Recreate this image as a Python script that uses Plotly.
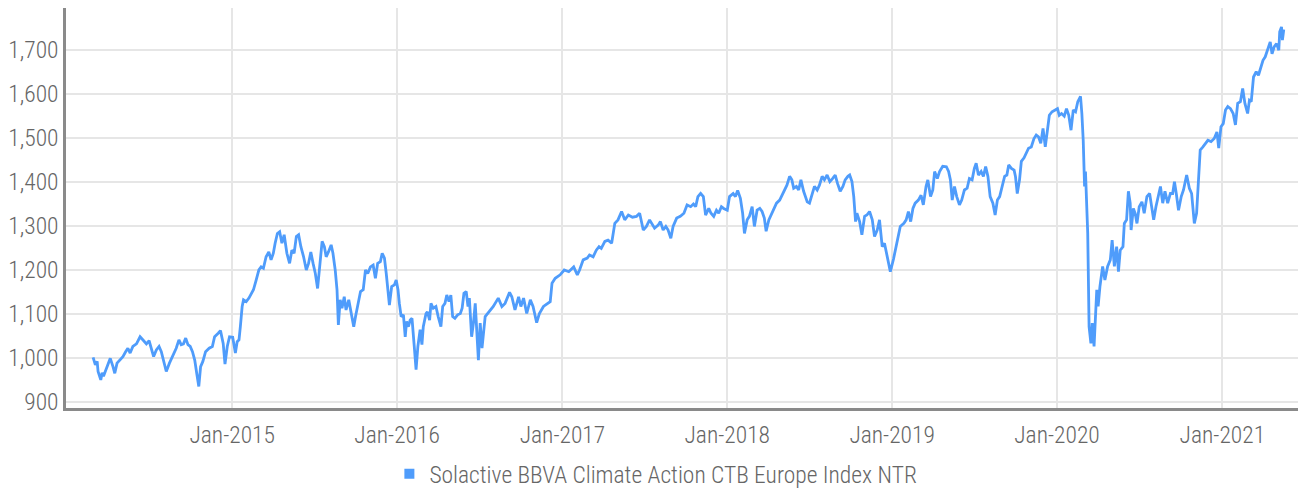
import plotly.graph_objects as go

series_name = "Solactive BBVA Climate Action CTB Europe Index NTR"

dates = [
    # 2014
    "2014-02-27", "2014-03-04", "2014-03-08", "2014-03-10", "2014-03-16", "2014-03-19", "2014-03-22", "2014-03-27",
    "2014-04-01", "2014-04-06", "2014-04-12", "2014-04-16", "2014-04-21", "2014-04-27", "2014-05-04", "2014-05-10",
    "2014-05-15", "2014-05-20", "2014-05-26", "2014-06-03", "2014-06-11", "2014-06-19", "2014-06-25", "2014-07-01",
    "2014-07-06", "2014-07-11", "2014-07-17", "2014-07-23", "2014-07-28", "2014-08-02", "2014-08-08", "2014-08-15",
    "2014-08-23", "2014-08-30", "2014-09-05", "2014-09-10", "2014-09-15", "2014-09-20", "2014-09-25", "2014-09-30",
    "2014-10-05", "2014-10-10", "2014-10-15", "2014-10-19", "2014-10-23", "2014-10-28", "2014-11-03", "2014-11-11",
    "2014-11-18", "2014-11-23", "2014-12-01", "2014-12-06", "2014-12-12", "2014-12-16", "2014-12-21", "2014-12-26",
    # 2015
    "2015-01-02", "2015-01-05", "2015-01-08", "2015-01-12", "2015-01-16", "2015-01-19", "2015-01-23", "2015-01-26",
    "2015-02-01", "2015-02-07", "2015-02-12", "2015-02-17", "2015-02-23", "2015-03-01", "2015-03-06", "2015-03-11",
    "2015-03-17", "2015-03-23", "2015-03-28", "2015-04-02", "2015-04-06", "2015-04-11", "2015-04-16", "2015-04-21",
    "2015-04-26", "2015-05-02", "2015-05-08", "2015-05-13", "2015-05-18", "2015-05-23", "2015-05-28", "2015-06-02",
    "2015-06-08", "2015-06-14", "2015-06-19", "2015-06-24", "2015-06-29", "2015-07-04", "2015-07-09", "2015-07-13",
    "2015-07-19", "2015-07-24", "2015-07-28", "2015-08-02", "2015-08-08", "2015-08-12", "2015-08-17", "2015-08-21",
    "2015-08-24", "2015-08-28", "2015-09-01", "2015-09-06", "2015-09-10", "2015-09-16", "2015-09-19", "2015-09-23",
    "2015-09-27", "2015-10-01", "2015-10-06", "2015-10-12", "2015-10-18", "2015-10-23", "2015-10-28", "2015-11-03",
    "2015-11-09", "2015-11-14", "2015-11-19", "2015-11-25", "2015-11-29", "2015-12-04", "2015-12-08", "2015-12-11",
    "2015-12-15", "2015-12-20", "2015-12-26", "2015-12-30",
    # 2016
    "2016-01-03", "2016-01-06", "2016-01-10", "2016-01-15", "2016-01-19", "2016-01-22", "2016-01-26", "2016-01-30",
    "2016-02-03", "2016-02-08", "2016-02-12", "2016-02-16", "2016-02-21", "2016-02-25", "2016-02-28", "2016-03-05",
    "2016-03-08", "2016-03-13", "2016-03-16", "2016-03-21", "2016-03-27", "2016-04-01", "2016-04-07", "2016-04-11",
    "2016-04-16", "2016-04-20", "2016-04-25", "2016-04-29", "2016-05-03", "2016-05-08", "2016-05-14", "2016-05-20",
    "2016-05-24", "2016-05-28", "2016-06-02", "2016-06-06", "2016-06-09", "2016-06-14", "2016-06-18", "2016-06-22",
    "2016-06-25", "2016-06-29", "2016-07-03", "2016-07-07", "2016-07-14", "2016-07-25", "2016-08-01", "2016-08-12",
    "2016-08-20", "2016-08-27", "2016-09-06", "2016-09-11", "2016-09-18", "2016-09-26", "2016-10-01", "2016-10-07",
    "2016-10-14", "2016-10-22", "2016-10-28", "2016-11-05", "2016-11-11", "2016-11-20", "2016-11-28", "2016-12-05",
    "2016-12-09", "2016-12-16", "2016-12-27",
    # 2017
    "2017-01-05", "2017-01-15", "2017-01-26", "2017-02-03", "2017-02-08", "2017-02-16", "2017-02-25", "2017-03-02",
    "2017-03-10", "2017-03-17", "2017-03-23", "2017-03-28", "2017-04-05", "2017-04-12", "2017-04-20", "2017-04-27",
    "2017-05-04", "2017-05-12", "2017-05-19", "2017-05-27", "2017-06-05", "2017-06-14", "2017-06-21", "2017-06-29",
    "2017-07-06", "2017-07-13", "2017-07-19", "2017-07-24", "2017-08-01", "2017-08-06", "2017-08-12", "2017-08-18",
    "2017-08-23", "2017-08-29", "2017-09-03", "2017-09-11", "2017-09-19", "2017-09-27", "2017-10-04", "2017-10-12",
    "2017-10-18", "2017-10-23", "2017-10-28", "2017-11-03", "2017-11-09", "2017-11-14", "2017-11-21", "2017-11-26",
    "2017-12-02", "2017-12-08", "2017-12-13", "2017-12-19", "2017-12-24",
    # 2018
    "2018-01-01", "2018-01-06", "2018-01-14", "2018-01-19", "2018-01-24", "2018-01-30", "2018-02-04", "2018-02-08",
    "2018-02-14", "2018-02-19", "2018-02-25", "2018-03-02", "2018-03-08", "2018-03-14", "2018-03-19", "2018-03-24",
    "2018-03-28", "2018-04-03", "2018-04-08", "2018-04-14", "2018-04-20", "2018-04-27", "2018-05-02", "2018-05-07",
    "2018-05-13", "2018-05-19", "2018-05-24", "2018-05-28", "2018-06-03", "2018-06-08", "2018-06-13", "2018-06-19",
    "2018-06-27", "2018-07-02", "2018-07-08", "2018-07-13", "2018-07-19", "2018-07-24", "2018-07-30", "2018-08-04",
    "2018-08-10", "2018-08-16", "2018-08-22", "2018-08-28", "2018-09-02", "2018-09-08", "2018-09-14", "2018-09-19",
    "2018-09-25", "2018-09-29", "2018-10-04", "2018-10-08", "2018-10-12", "2018-10-15", "2018-10-21", "2018-10-26",
    "2018-11-01", "2018-11-06", "2018-11-12", "2018-11-18", "2018-11-23", "2018-11-29", "2018-12-04", "2018-12-10",
    "2018-12-15", "2018-12-19", "2018-12-24", "2018-12-28",
    # 2019
    "2019-01-04", "2019-01-08", "2019-01-14", "2019-01-19", "2019-01-27", "2019-02-01", "2019-02-06", "2019-02-11",
    "2019-02-16", "2019-02-21", "2019-02-28", "2019-03-06", "2019-03-11", "2019-03-17", "2019-03-21", "2019-03-27",
    "2019-04-01", "2019-04-05", "2019-04-11", "2019-04-16", "2019-04-23", "2019-05-01", "2019-05-06", "2019-05-10",
    "2019-05-14", "2019-05-19", "2019-05-24", "2019-05-30", "2019-06-04", "2019-06-10", "2019-06-16", "2019-06-21",
    "2019-06-27", "2019-07-02", "2019-07-06", "2019-07-11", "2019-07-17", "2019-07-22", "2019-07-27", "2019-08-01",
    "2019-08-06", "2019-08-12", "2019-08-17", "2019-08-22", "2019-08-27", "2019-09-02", "2019-09-07", "2019-09-12",
    "2019-09-16", "2019-09-22", "2019-09-28", "2019-10-01", "2019-10-05", "2019-10-10", "2019-10-14", "2019-10-20",
    "2019-10-25", "2019-10-30", "2019-11-05", "2019-11-11", "2019-11-16", "2019-11-21", "2019-11-26", "2019-12-01",
    "2019-12-06", "2019-12-10", "2019-12-15", "2019-12-21", "2019-12-27",
    # 2020
    "2020-01-02", "2020-01-06", "2020-01-11", "2020-01-17", "2020-01-22", "2020-01-27", "2020-02-01", "2020-02-06",
    "2020-02-11", "2020-02-16", "2020-02-22", "2020-02-25", "2020-02-28", "2020-03-02", "2020-03-04", "2020-03-09",
    "2020-03-12", "2020-03-16", "2020-03-19", "2020-03-23", "2020-03-29", "2020-04-01", "2020-04-05", "2020-04-11",
    "2020-04-16", "2020-04-22", "2020-04-28", "2020-05-02", "2020-05-07", "2020-05-12", "2020-05-16", "2020-05-20",
    "2020-05-26", "2020-05-29", "2020-06-03", "2020-06-07", "2020-06-11", "2020-06-13", "2020-06-18", "2020-06-22",
    "2020-06-26", "2020-07-01", "2020-07-07", "2020-07-12", "2020-07-18", "2020-07-24", "2020-07-29", "2020-08-02",
    "2020-08-07", "2020-08-12", "2020-08-17", "2020-08-22", "2020-08-27", "2020-09-02", "2020-09-08", "2020-09-13",
    "2020-09-17", "2020-09-21", "2020-09-26", "2020-10-02", "2020-10-07", "2020-10-14", "2020-10-20", "2020-10-25",
    "2020-10-31", "2020-11-05", "2020-11-09", "2020-11-13", "2020-11-19", "2020-11-24", "2020-11-30", "2020-12-07",
    "2020-12-14", "2020-12-20", "2020-12-24", "2020-12-29",
    # 2021
    "2021-01-03", "2021-01-08", "2021-01-13", "2021-01-19", "2021-01-25", "2021-01-30", "2021-02-04", "2021-02-10",
    "2021-02-15", "2021-02-20", "2021-02-26", "2021-03-02", "2021-03-06", "2021-03-11", "2021-03-17", "2021-03-22",
    "2021-03-28", "2021-04-01", "2021-04-06", "2021-04-11", "2021-04-17", "2021-04-21", "2021-04-26", "2021-05-01",
    "2021-05-06", "2021-05-08", "2021-05-12", "2021-05-14", "2021-05-17",
]

values = [
    # 2014
    1001, 984, 992, 969, 950, 966, 958, 973,
    988, 999, 980, 965, 988, 995, 1003, 1014,
    1022, 1011, 1026, 1032, 1048, 1039, 1032, 1039,
    1022, 1003, 1018, 1026, 1014, 995, 969, 988,
    1007, 1022, 1041, 1030, 1032, 1045, 1030, 1026,
    1014, 995, 961, 935, 980, 992, 1014, 1022,
    1026, 1048, 1056, 1062, 1033, 986, 1026, 1048,
    # 2015
    1047, 1033, 1011, 1037, 1041, 1071, 1117, 1132,
    1128, 1136, 1147, 1155, 1177, 1200, 1207, 1204,
    1230, 1241, 1223, 1238, 1261, 1283, 1287, 1261,
    1280, 1238, 1215, 1245, 1238, 1276, 1280, 1253,
    1230, 1200, 1215, 1241, 1215, 1192, 1158, 1200,
    1265, 1253, 1230, 1241, 1257, 1238, 1200, 1155,
    1075, 1132, 1113, 1139, 1109, 1132, 1117, 1094,
    1071, 1094, 1124, 1151, 1155, 1200, 1192, 1207,
    1211, 1181, 1215, 1219, 1238, 1227, 1192, 1162,
    1120, 1162, 1166, 1177,
    # 2016
    1155, 1124, 1094, 1098, 1048, 1083, 1071, 1086,
    1090, 1026, 973, 1026, 1064, 1030, 1071, 1101,
    1105, 1086, 1124, 1113, 1117, 1094, 1071, 1117,
    1124, 1143, 1128, 1143, 1094, 1090, 1098, 1101,
    1113, 1147, 1151, 1117, 1136, 1048, 1079, 1124,
    1064, 995, 1079, 1022, 1094, 1109, 1117, 1136,
    1117, 1124, 1149, 1139, 1109, 1139, 1117, 1136,
    1101, 1132, 1117, 1080, 1101, 1117, 1124, 1128,
    1170, 1181, 1189,
    # 2017
    1200, 1196, 1207, 1189, 1200, 1223, 1227, 1234,
    1230, 1245, 1253, 1249, 1265, 1268, 1261, 1306,
    1314, 1333, 1314, 1325, 1320, 1322, 1329, 1291,
    1299, 1314, 1302, 1295, 1302, 1310, 1291, 1299,
    1291, 1272, 1299, 1318, 1322, 1329, 1348, 1344,
    1350, 1344, 1367, 1374, 1367, 1325, 1340, 1329,
    1322, 1336, 1329, 1344, 1340,
    # 2018
    1336, 1367, 1374, 1367, 1381, 1363, 1329, 1283,
    1314, 1322, 1344, 1299, 1336, 1340, 1333, 1318,
    1288, 1314, 1325, 1340, 1352, 1359, 1370, 1382,
    1393, 1413, 1405, 1386, 1390, 1382, 1405, 1379,
    1355, 1352, 1370, 1390, 1382, 1393, 1413, 1405,
    1416, 1401, 1408, 1416, 1397, 1379, 1390, 1405,
    1413, 1416, 1401, 1367, 1310, 1329, 1310, 1280,
    1322, 1325, 1333, 1314, 1276, 1291, 1314, 1253,
    1261, 1238, 1215, 1196,
    # 2019
    1225, 1245, 1276, 1299, 1306, 1314, 1333, 1310,
    1340, 1352, 1359, 1370, 1348, 1390, 1405, 1367,
    1382, 1424, 1408, 1424, 1436, 1435, 1424, 1405,
    1359, 1390, 1367, 1348, 1359, 1382, 1386, 1408,
    1405, 1431, 1443, 1416, 1424, 1413, 1435, 1413,
    1367, 1352, 1325, 1359, 1367, 1390, 1413, 1416,
    1439, 1431, 1427, 1413, 1374, 1405, 1447, 1455,
    1466, 1477, 1480, 1499, 1507, 1503, 1488, 1522,
    1480, 1514, 1552, 1560, 1564,
    # 2020
    1567, 1552, 1556, 1550, 1567, 1552, 1518, 1564,
    1560, 1583, 1595, 1556, 1495, 1390, 1424, 1283,
    1071, 1033, 1079, 1026, 1155, 1117, 1162, 1208,
    1177, 1208, 1223, 1268, 1208, 1253, 1196, 1245,
    1253, 1306, 1314, 1379, 1352, 1291, 1340, 1329,
    1306, 1344, 1355, 1329, 1367, 1374, 1340, 1314,
    1344, 1367, 1390, 1352, 1379, 1352, 1374, 1374,
    1401, 1374, 1336, 1367, 1382, 1416, 1386, 1374,
    1306, 1329, 1405, 1473, 1480, 1488, 1495, 1492,
    1499, 1514, 1477, 1526,
    # 2021
    1533, 1564, 1572, 1567, 1556, 1530, 1579, 1583,
    1613, 1579, 1556, 1586, 1583, 1639, 1651, 1643,
    1662, 1677, 1685, 1700, 1719, 1692, 1708, 1715,
    1700, 1742, 1753, 1723, 1747,
]

y_ticks = [900, 1000, 1100, 1200, 1300, 1400, 1500, 1600, 1700]
x_ticks = ["2015-01-01", "2016-01-01", "2017-01-01", "2018-01-01",
           "2019-01-01", "2020-01-01", "2021-01-01"]
x_range = ["2013-12-29", "2021-07-03"]
y_range = [886, 1796]

line_color = "#4f9cfb"
font_family = "Roboto Condensed, Roboto, sans-serif"
font_weight = 300
font_size = 23.5
text_color = "#666666"
grid_color = "#e6e6e6"
axis_color = "#8a8a8a"

tick_font = dict(family=font_family, size=font_size, color=text_color, weight=font_weight)

fig = go.Figure()
fig.add_trace(go.Scatter(
    x=dates, y=values, mode="lines",
    line=dict(color=line_color, width=2.8),
    showlegend=False, name=series_name,
))
# legend proxy (square marker, no data)
fig.add_trace(go.Scatter(
    x=[None], y=[None], mode="markers",
    marker=dict(symbol="square", size=10, color=line_color),
    name=series_name, showlegend=True,
))

# the page body adds an 8px margin, so the figure is sized to fit inside it
fig.update_layout(
    width=1298, height=482,
    margin=dict(l=58, r=1, t=0, b=82, autoexpand=False),
    paper_bgcolor="white", plot_bgcolor="white",
    font=tick_font,
    legend=dict(
        orientation="h", x=0.261, xanchor="left",
        yref="container", y=0.033, yanchor="middle",
        font=tick_font, itemwidth=30, tracegroupgap=0,
    ),
)
fig.update_xaxes(
    type="date", range=x_range, tickvals=x_ticks, tickformat="%b-%Y",
    showgrid=True, gridcolor=grid_color, gridwidth=2,
    showline=True, linecolor=axis_color, linewidth=2.5,
    ticks="", zeroline=False, automargin=False, ticklabelstandoff=4,
    tickfont=tick_font,
)
fig.update_yaxes(
    range=y_range, tickvals=y_ticks, tickformat=",",
    showgrid=True, gridcolor=grid_color, gridwidth=2,
    showline=True, linecolor=axis_color, linewidth=2.5,
    ticks="", zeroline=False, automargin=False, ticklabelstandoff=0,
    tickfont=tick_font,
)

fig.write_html("out.html")
